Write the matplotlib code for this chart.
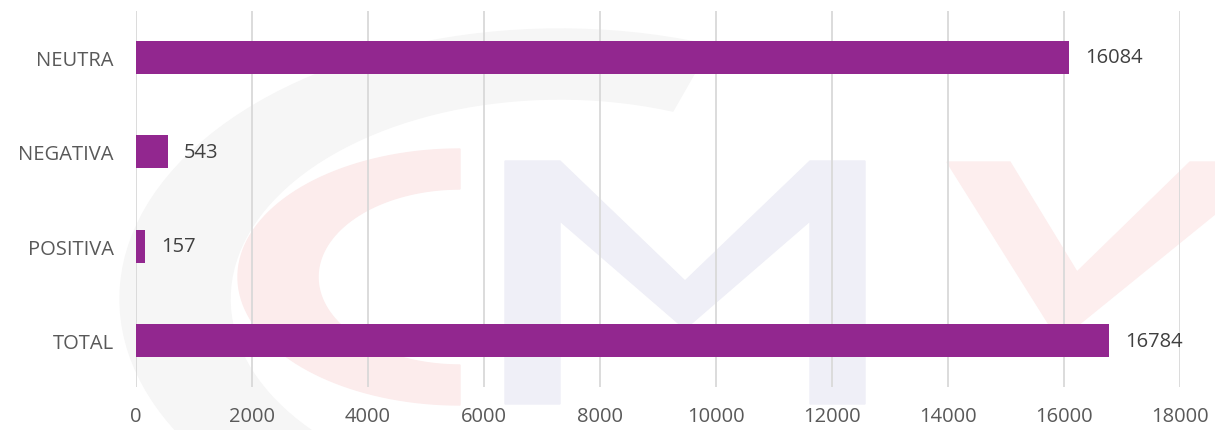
import numpy as np
import matplotlib
matplotlib.use('Agg')
from matplotlib import pyplot as plt
from matplotlib.patches import Polygon

categories = ['TOTAL', 'POSITIVA', 'NEGATIVA', 'NEUTRA']
values = [16784, 157, 543, 16084]
xticks = [0, 2000, 4000, 6000, 8000, 10000, 12000, 14000, 16000, 18000]

plt.rcParams['font.family'] = ['Open Sans', 'DejaVu Sans']
text_col = '#595959'
bar_col = '#92278f'


def ring(cx, cy, a_out, b_out, a_in, b_in, t0, t1):
    # elliptical ring segment, angles in degrees
    t = np.radians(np.linspace(t0, t1, 80))
    outer = np.c_[cx + a_out * np.cos(t), cy - b_out * np.sin(t)]
    inner = np.c_[cx + a_in * np.cos(t[::-1]), cy - b_in * np.sin(t[::-1])]
    return np.vstack([outer, inner])


fig = plt.figure(figsize=(12.15, 4.31), dpi=100)

# faint logo watermark behind the chart
bg = fig.add_axes([0, 0, 1, 1], zorder=0)
bg.set_xlim(0, 1215)
bg.set_ylim(431, 0)
bg.axis('off')
bg.add_patch(Polygon(ring(560, 300, 440, 270, 330, 200, 70, 260), color='#f6f6f6'))
bg.add_patch(Polygon(ring(460, 278, 222, 128, 142, 88, 90, 270), color='#fcecec'))
bg.add_patch(Polygon([(505, 162), (560, 162), (685, 282), (810, 162), (865, 162),
                      (865, 405), (810, 405), (810, 222), (685, 330), (560, 222),
                      (560, 405), (505, 405)], closed=True, color='#efeff7'))
bg.add_patch(Polygon([(947, 163), (1010, 163), (1077, 273), (1190, 163), (1215, 163),
                      (1215, 215), (1077, 327), (1050, 327)], closed=True, color='#fdeeee'))

ax = fig.add_axes([0.112, 0.0998, 0.859, 0.872], zorder=1)
ax.patch.set_visible(False)

ypos = range(len(categories))
ax.barh(ypos, values, height=0.35, color=bar_col, zorder=3)
for y, v in zip(ypos, values):
    ax.text(v + 280, y, str(v), va='center', ha='left', fontsize=14.5, color='#404040')

ax.set_xlim(0, 18000)
ax.set_ylim(-0.49, 3.49)
ax.set_xticks(xticks)
ax.set_xticklabels([str(t) for t in xticks])
ax.set_yticks(list(ypos))
ax.set_yticklabels(categories)
ax.tick_params(axis='both', length=0, labelsize=14.5, labelcolor=text_col)
ax.tick_params(axis='x', pad=14)
ax.tick_params(axis='y', pad=16)
ax.grid(axis='x', color='#d9d9d9', linewidth=1.3, zorder=0)
for s in ax.spines.values():
    s.set_visible(False)

fig.savefig('out.png', dpi=100)
